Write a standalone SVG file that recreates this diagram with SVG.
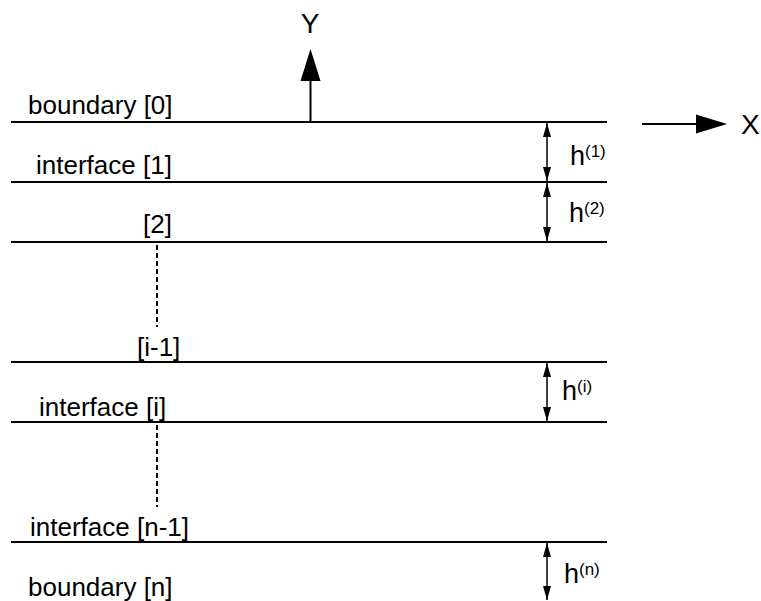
<svg xmlns="http://www.w3.org/2000/svg" width="761" height="601" viewBox="0 0 761 601">
<defs>
<style>
.ln{stroke:#000;stroke-width:2;fill:none}
.dim{stroke:#000;stroke-width:1.5;fill:none;marker-start:url(#ah);marker-end:url(#ah)}
.dash{stroke:#000;stroke-width:2;stroke-dasharray:5 3;fill:none}
text{font-family:"Liberation Sans",Arial,sans-serif;fill:#000}
.lbl{font-size:26px}
.ax{font-size:28px}
.h{font-size:27px}
.sup{font-size:17px}
</style>
<marker id="ah" viewBox="0 0 14 8" refX="14" refY="4" markerWidth="14" markerHeight="8" markerUnits="userSpaceOnUse" orient="auto-start-reverse">
<path d="M0,0 L14,4 L0,8 Z" fill="#000"/>
</marker>
</defs>
<rect width="761" height="601" fill="#fff"/>
<g id="layer-lines">
<g id="boundary0"><line class="ln" x1="11" y1="122" x2="607" y2="122"/><text class="lbl" x="28" y="114">boundary [0]</text></g>
<g id="interface1"><line class="ln" x1="11" y1="182" x2="607" y2="182"/><text class="lbl" x="36" y="174">interface [1]</text></g>
<g id="interface2"><line class="ln" x1="11" y1="242" x2="607" y2="242"/><text class="lbl" x="143" y="233">[2]</text></g>
<g id="interface-i-1"><line class="ln" x1="11" y1="362" x2="607" y2="362"/><text class="lbl" x="137" y="356">[i-1]</text></g>
<g id="interface-i"><line class="ln" x1="11" y1="422" x2="607" y2="422"/><text class="lbl" x="39" y="416">interface [i]</text></g>
<g id="interface-n-1"><line class="ln" x1="11" y1="542" x2="607" y2="542"/><text class="lbl" x="30" y="536">interface [n-1]</text></g>
<g id="boundaryn"><text class="lbl" x="28" y="596">boundary [n]</text></g>
</g>
<g id="axes">
<g id="y-axis"><line class="ln" x1="310.5" y1="122" x2="310.5" y2="80"/><polygon points="310.5,49 300.5,81 320.5,81" fill="#000"/><text class="ax" x="310" y="33" text-anchor="middle">Y</text></g>
<g id="x-axis"><line class="ln" x1="642" y1="124" x2="697" y2="124"/><polygon points="727,124 696,114.5 696,133.5" fill="#000"/><text class="ax" x="741" y="134">X</text></g>
</g>
<g id="connectors">
<line class="dash" x1="157" y1="245" x2="157" y2="327"/>
<line class="dash" x1="157" y1="425" x2="157" y2="507"/>
<line class="dim" x1="547" y1="123" x2="547" y2="181"/>
<line class="dim" x1="547" y1="183" x2="547" y2="241"/>
<line class="dim" x1="547" y1="363" x2="547" y2="421"/>
<line class="dim" x1="547" y1="543" x2="547" y2="600"/>
</g>
<g id="dim-labels">
<g id="h1"><text class="h" x="570" y="165">h</text><text class="sup" x="585" y="157">(1)</text></g>
<g id="h2"><text class="h" x="569" y="222">h</text><text class="sup" x="584" y="214">(2)</text></g>
<g id="hi"><text class="h" x="562" y="400">h</text><text class="sup" x="577" y="392">(i)</text></g>
<g id="hn"><text class="h" x="564" y="583">h</text><text class="sup" x="579" y="575">(n)</text></g>
</g>
</svg>
